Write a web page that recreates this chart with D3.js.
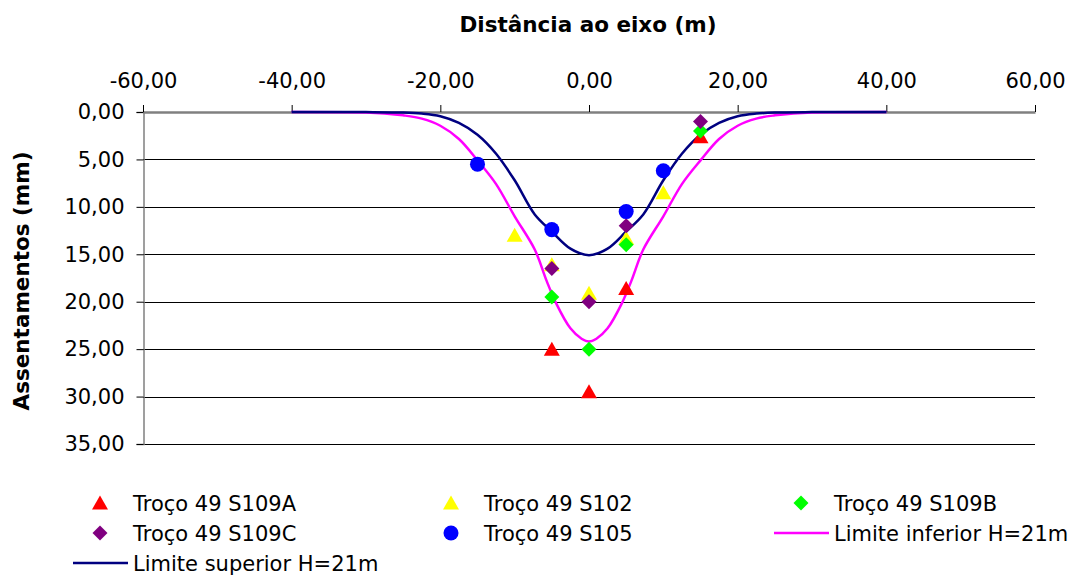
<!DOCTYPE html>
<html>
<head>
<meta charset="utf-8">
<script src="https://cdn.jsdelivr.net/npm/d3@7"></script>
<style>
  html, body { margin: 0; padding: 0; background: #fff; }
  svg { display: block; font-family: "DejaVu Sans", Verdana, sans-serif; }
</style>
</head>
<body>
<svg id="chart" width="1083" height="575"></svg>
<script>
// Distância ao eixo (m) tick values and settlement ticks (mm)
const xTicks = [-60, -40, -20, 0, 20, 40, 60];
const yTicks = [0, 5, 10, 15, 20, 25, 30, 35];

// Measured settlements per survey section: [distance, settlement]
const s109A = [[-5, 25.0], [0, 29.5], [5, 18.6], [15, 2.6]];
const s102  = [[-10, 13.0], [-5, 16.1], [0, 19.1], [5, 13.3], [10, 8.5]];
const s109B = [[-5, 19.5], [0, 25.0], [5, 14.0], [15, 2.0]];
const s109C = [[-5, 16.5], [0, 20.0], [5, 12.0], [15, 1.0]];
const s105  = [[-15, 5.5], [-5, 12.4], [5, 10.5], [10, 6.2]];

// Envelope curves for H=21m
const upperX = [-40, -30, -25, -22.5, -20, -17.5, -15, -12.5, -10, -7.3, -5, -2.5, 0,
                2.5, 5, 7.3, 10, 12.5, 15, 17.5, 20, 22.5, 25, 30, 40];
const upperLimit = [0, 0.01, 0.06, 0.17, 0.45, 1.15, 2.4, 4.4, 7.2, 10.8, 12.6, 14.4, 15.1,
                    14.4, 12.6, 10.8, 7.2, 4.4, 2.4, 1.15, 0.45, 0.17, 0.06, 0.01, 0];
const lowerX = [-40, -30, -27.5, -25, -22.5, -20, -17.5, -15, -12.5, -10, -7.3, -5.7, -4.4, -2.5, -1, 0,
                1, 2.5, 4.4, 5.7, 7.3, 10, 12.5, 15, 17.5, 20, 22.5, 25, 27.5, 30, 40];
const lowerLimit = [0, 0.05, 0.15, 0.35, 0.7, 1.45, 2.85, 5.1, 7.6, 11.0, 14.5, 17.8, 20.2, 22.8, 23.9, 24.2,
                    23.9, 22.8, 20.2, 17.8, 14.5, 11.0, 7.6, 5.1, 2.85, 1.45, 0.7, 0.35, 0.15, 0.05, 0];

const seriesNames = ["Troço 49 S109A", "Troço 49 S102", "Troço 49 S109B",
                     "Troço 49 S109C", "Troço 49 S105", "Limite inferior H=21m",
                     "Limite superior H=21m"];

const svg = d3.select("#chart");
const plotL = 143, plotR = 1035, plotT = 112, plotB = 444;

const x = d3.scaleLinear().domain([-60, 60]).range([plotL, plotR]);
const y = d3.scaleLinear().domain([0, 35]).range([plotT, plotB]);

const locale = d3.formatLocale({ decimal: ",", thousands: ".", grouping: [3], currency: ["", "€"], minus: "-" });
const fmt = locale.format(".2f");

// horizontal gridlines
svg.append("g").selectAll("line").data(yTicks.slice(1)).join("line")
  .attr("x1", plotL).attr("x2", plotR)
  .attr("y1", d => Math.round(y(d)) + 0.5).attr("y2", d => Math.round(y(d)) + 0.5)
  .attr("stroke", "#000").attr("stroke-width", 1);

// left axis
const yAxis = svg.append("g").attr("transform", `translate(${plotL + 0.5},0)`)
  .call(d3.axisLeft(y).tickValues(yTicks).tickFormat(fmt).tickSize(7).tickPadding(12));
yAxis.select(".domain").attr("stroke", "#808080").attr("stroke-width", 1.5);
yAxis.selectAll(".tick line").attr("stroke", "#000");
yAxis.selectAll("text").attr("font-size", 21).attr("fill", "#000")
  .attr("font-family", "DejaVu Sans, Verdana, sans-serif");

// top axis
const xAxis = svg.append("g").attr("transform", `translate(0,${plotT})`)
  .call(d3.axisTop(x).tickValues(xTicks).tickFormat(fmt).tickSize(7).tickSizeOuter(0).tickPadding(17));
xAxis.select(".domain").attr("stroke", "#808080").attr("stroke-width", 2.5);
xAxis.selectAll(".tick line").attr("stroke", "#000");
xAxis.selectAll("text").attr("font-size", 21).attr("fill", "#000")
  .attr("font-family", "DejaVu Sans, Verdana, sans-serif");

// axis titles
svg.append("text").attr("x", 588).attr("y", 32).attr("text-anchor", "middle")
  .attr("font-size", 21.5).attr("font-weight", "bold").text("Distância ao eixo (m)");
svg.append("text").attr("transform", `translate(29,281) rotate(-90)`).attr("text-anchor", "middle")
  .attr("font-size", 21.5).attr("font-weight", "bold").text("Assentamentos (mm)");

// envelope curves
const line = d3.line().x(d => x(d[0])).y(d => y(d[1])).curve(d3.curveCatmullRom.alpha(0.5));
svg.append("path").datum(lowerX.map((v, i) => [v, lowerLimit[i]]))
  .attr("d", line).attr("fill", "none").attr("stroke", "#FF00FF").attr("stroke-width", 2.5);
svg.append("path").datum(upperX.map((v, i) => [v, upperLimit[i]]))
  .attr("d", line).attr("fill", "none").attr("stroke", "#000080").attr("stroke-width", 2.5);

// marker shapes (triangle centred on its bounding box)
const triPath = "M0,-7.5L8,6.5L-8,6.5Z";
const dia = d3.symbol().type(d3.symbolSquare).size(112)();
const circ = d3.symbol().type(d3.symbolCircle).size(177)();

function drawPoints(data, shape, color, rotate) {
  svg.append("g").selectAll("path").data(data).join("path")
    .attr("d", shape)
    .attr("transform", d => `translate(${x(d[0])},${y(d[1])})` + (rotate ? " rotate(45)" : ""))
    .attr("fill", color);
}
drawPoints(s109A, triPath, "#FF0000", false);
drawPoints(s102, triPath, "#FFFF00", false);
drawPoints(s109B, dia, "#00FF00", true);
drawPoints(s109C, dia, "#800080", true);
drawPoints(s105, circ, "#0000FF", false);

// legend
const legendItems = [
  { name: seriesNames[0], kind: "tri", color: "#FF0000", mx: 100, row: 0 },
  { name: seriesNames[1], kind: "tri", color: "#FFFF00", mx: 451, row: 0 },
  { name: seriesNames[2], kind: "dia", color: "#00FF00", mx: 801, row: 0 },
  { name: seriesNames[3], kind: "dia", color: "#800080", mx: 100, row: 1 },
  { name: seriesNames[4], kind: "circ", color: "#0000FF", mx: 451, row: 1 },
  { name: seriesNames[5], kind: "line", color: "#FF00FF", mx: 801, row: 1 },
  { name: seriesNames[6], kind: "line", color: "#000080", mx: 100, row: 2 }
];
const rowY = [503, 533, 563];
const lg = svg.append("g");
legendItems.forEach(it => {
  const cy = rowY[it.row];
  if (it.kind === "line") {
    lg.append("line").attr("x1", it.mx - 27).attr("x2", it.mx + 28)
      .attr("y1", cy).attr("y2", cy).attr("stroke", it.color).attr("stroke-width", 2.5);
  } else {
    const s = it.kind === "tri" ? triPath : it.kind === "dia" ? dia : circ;
    lg.append("path").attr("d", s)
      .attr("transform", `translate(${it.mx},${cy})` + (it.kind === "dia" ? " rotate(45)" : ""))
      .attr("fill", it.color);
  }
  lg.append("text").attr("x", it.mx + 33).attr("y", cy + 7.5).attr("font-size", 21).text(it.name);
});
</script>
</body>
</html>
